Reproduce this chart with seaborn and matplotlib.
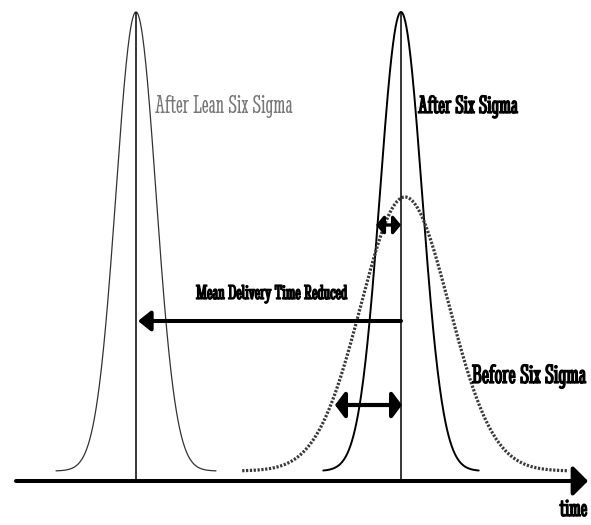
import numpy as np
import pandas as pd
import matplotlib
matplotlib.use("Agg")
import matplotlib.pyplot as plt
import matplotlib.patheffects as pe
import seaborn as sns

# curves: mean, spread, peak height, tail floor (time units / height units)
curve_names = ["After Lean Six Sigma", "After Six Sigma", "Before Six Sigma"]
curve_means = [136, 401, 405]
curve_sds = [20, 21, 44]
curve_peaks = [469, 469, 284]
curve_floor = [10, 10, 10]
curve_reach = [4.0, 3.7, 3.7]

sns.set_theme(style="white")
plt.rcParams['font.family'] = ['Stint Ultra Condensed', 'DejaVu Serif']

"build the curve table"
rows = []
for name, m, s, pk, fl, r in zip(curve_names, curve_means, curve_sds, curve_peaks, curve_floor, curve_reach):
    t = np.linspace(m - r * s, m + r * s, 300)
    h = fl + (pk - fl) * np.exp(-0.5 * ((t - m) / s) ** 2)
    rows.append(pd.DataFrame({'time': t, 'height': h, 'curve': name}))
df = pd.concat(rows, ignore_index=True)

fig, ax = plt.subplots(figsize=(5.91, 5.25), dpi=100)
fig.subplots_adjust(left=0, right=1, bottom=0, top=1)

styles = {
    "After Lean Six Sigma": dict(color='#333333', lw=0.9, ls='-'),
    "After Six Sigma": dict(color='black', lw=1.4, ls='-'),
    "Before Six Sigma": dict(color='#3a3a3a', lw=2.3, ls=(0, (0.7, 0.5))),
}
for name in curve_names:
    st = styles[name]
    sns.lineplot(data=df[df['curve'] == name], x='time', y='height', ax=ax,
                 color=st['color'], linewidth=st['lw'], linestyle=st['ls'], estimator=None, sort=False)

# mean lines
ax.vlines(curve_means[:2], -2, curve_peaks[:2], color='black', lw=1.1)

# time axis with arrow
ax.annotate('', xy=(588, 0), xytext=(16, 0),
            arrowprops=dict(arrowstyle='-|>,head_length=0.9,head_width=0.9', lw=2.9,
                            color='black', mutation_scale=10, shrinkA=0, shrinkB=0))

# mean delivery time shift
ax.annotate('', xy=(curve_means[0] + 2, 160), xytext=(curve_means[1], 160),
            arrowprops=dict(arrowstyle='-|>,head_length=0.75,head_width=0.6', lw=2.9,
                            color='black', mutation_scale=10, shrinkA=0, shrinkB=0))

# spread arrows
ax.annotate('', xy=(376, 256), xytext=(401, 256),
            arrowprops=dict(arrowstyle='<|-|>,head_length=0.45,head_width=0.55', lw=2.4,
                            color='black', mutation_scale=10, shrinkA=0, shrinkB=0))
ax.annotate('', xy=(335, 76), xytext=(402, 76),
            arrowprops=dict(arrowstyle='<|-|>,head_length=0.6,head_width=0.8', lw=3,
                            color='black', mutation_scale=10, shrinkA=0, shrinkB=0))

bold = [pe.withStroke(linewidth=0.9, foreground='black')]
ax.text(155, 368, "After Lean Six Sigma", fontsize=19, color='#777777', ha='left', va='baseline')
ax.text(418, 368, "After Six Sigma", fontsize=18.5, color='black', ha='left', va='baseline', path_effects=bold)
ax.text(272, 182, "Mean Delivery Time Reduced", fontsize=15, color='black', ha='center', va='baseline', path_effects=bold)
ax.text(472, 98, "Before Six Sigma", fontsize=19.5, color='black', ha='left', va='baseline', path_effects=bold)
ax.text(560, -35, "time", fontsize=18, color='black', ha='left', va='baseline', path_effects=bold)

ax.set_xlim(0, 591)
ax.set_ylim(-44, 481)
ax.axis('off')

fig.savefig("out.png", dpi=100)
